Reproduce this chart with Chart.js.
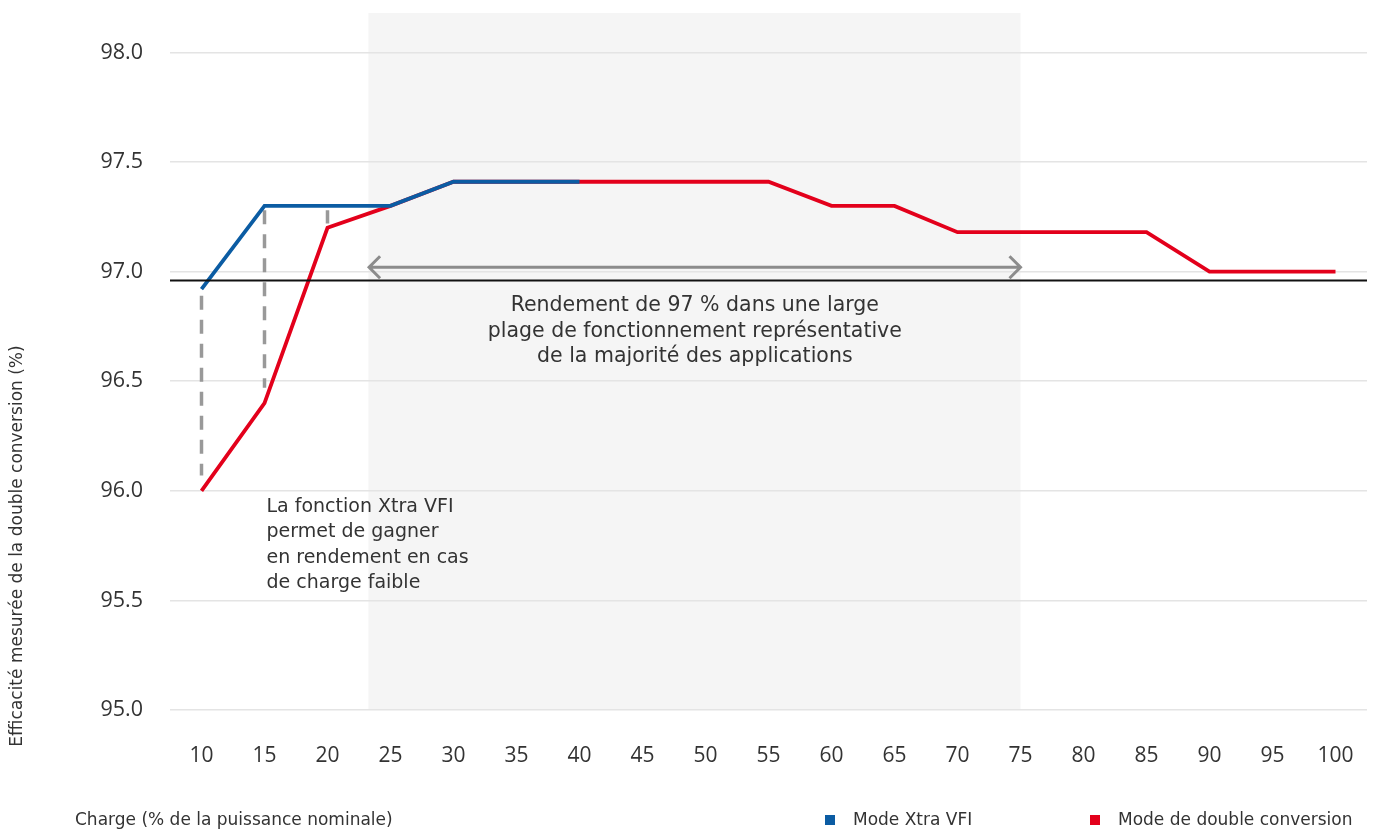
<!DOCTYPE html>
<html lang="fr">
<head>
<meta charset="utf-8">
<title>Efficacité Xtra VFI</title>
<script src="https://cdn.jsdelivr.net/npm/chart.js@4/dist/chart.umd.min.js"></script>
<style>
    html, body { margin: 0; padding: 0; background: #fff; }
    #wrap { width: 1377px; height: 831px; position: relative; }
</style>
</head>
<body>
<div id="wrap"><canvas id="chart"></canvas></div>
<script>
const loads = ['10', '15', '20', '25', '30', '35', '40', '45', '50', '55', '60', '65', '70', '75', '80', '85', '90', '95', '100'];
const xtraVfi = [96.92, 97.3, 97.3, 97.3, 97.41, 97.41, 97.41, null, null, null, null, null, null, null, null, null, null, null, null];
const doubleConversion = [96.0, 96.4, 97.2, 97.3, 97.41, 97.41, 97.41, 97.41, 97.41, 97.41, 97.3, 97.3, 97.18, 97.18, 97.18, 97.18, 97.0, 97.0, 97.0];
const gainLines = [
    [{x: '10', y: 96.89}, {x: '10', y: 96.07}],
    [{x: '15', y: 97.28}, {x: '15', y: 96.47}],
    [{x: '20', y: 97.28}, {x: '20', y: 97.22}],
];
const thresholdValue = 96.96;
const rangeArrow = {from: 23.3, to: 75, y: 97.02};
const rangeBand = {from: 23.25, to: 75};
const yTicks = [95.0, 95.5, 96.0, 96.5, 97.0, 97.5, 98.0];
const yMin = 95.0;
const yMax = 98.18;

const blue = '#0b5ca3';
const red = '#e3001b';
const grey = '#999999';
const textColor = '#333333';
const font = '"DejaVu Sans", sans-serif';
const tickFont = '"Open Sans", sans-serif';

// loads on the category axis as a fractional index
function loadIndex(v) {
    return (v - Number(loads[0])) / (Number(loads[1]) - Number(loads[0]));
}

const decorations = {
    id: 'decorations',
    beforeDraw(chart) {
        const {ctx, chartArea, scales} = chart;
        const x0 = scales.x.getPixelForValue(loadIndex(rangeBand.from));
        const x1 = scales.x.getPixelForValue(loadIndex(rangeBand.to));
        ctx.save();
        ctx.fillStyle = '#f5f5f5';
        ctx.fillRect(x0, chartArea.top, x1 - x0, chartArea.bottom - chartArea.top);
        ctx.restore();
    },
    afterDatasetsDraw(chart) {
        const {ctx, chartArea, scales} = chart;
        ctx.save();

        // 97 % reference line
        const yt = scales.y.getPixelForValue(thresholdValue);
        ctx.strokeStyle = '#111';
        ctx.lineWidth = 2;
        ctx.beginPath();
        ctx.moveTo(chartArea.left, yt);
        ctx.lineTo(chartArea.right, yt);
        ctx.stroke();

        // double arrow
        const ax0 = scales.x.getPixelForValue(loadIndex(rangeArrow.from));
        const ax1 = scales.x.getPixelForValue(loadIndex(rangeArrow.to));
        const ay = scales.y.getPixelForValue(rangeArrow.y);
        ctx.strokeStyle = '#8c8c8c';
        ctx.lineWidth = 3;
        ctx.beginPath();
        ctx.moveTo(ax0, ay);
        ctx.lineTo(ax1, ay);
        ctx.moveTo(ax0 + 11, ay - 11);
        ctx.lineTo(ax0, ay);
        ctx.lineTo(ax0 + 11, ay + 11);
        ctx.moveTo(ax1 - 11, ay - 11);
        ctx.lineTo(ax1, ay);
        ctx.lineTo(ax1 - 11, ay + 11);
        ctx.stroke();

        ctx.fillStyle = textColor;
        ctx.textBaseline = 'middle';

        ctx.font = '20.5px ' + font;
        ctx.textAlign = 'center';
        const cx = (ax0 + ax1) / 2;
        ['Rendement de 97 % dans une large',
         'plage de fonctionnement représentative',
         'de la majorité des applications'].forEach((t, i) => ctx.fillText(t, cx, 306 + i * 25.5));

        ctx.font = '19px ' + font;
        ctx.textAlign = 'left';
        const lx = scales.x.getPixelForValue(1);
        ['La fonction Xtra VFI',
         'permet de gagner',
         'en rendement en cas',
         'de charge faible'].forEach((t, i) => ctx.fillText(t, lx + 2, 507 + i * 25.3));
        ctx.restore();
    },
    afterDraw(chart) {
        const {ctx} = chart;
        ctx.save();
        ctx.fillStyle = textColor;
        ctx.font = '17px ' + font;
        ctx.textBaseline = 'middle';

        // axis titles
        ctx.textAlign = 'left';
        ctx.fillText('Charge (% de la puissance nominale)', 75, 821);
        ctx.save();
        ctx.translate(18, 546);
        ctx.rotate(-Math.PI / 2);
        ctx.textAlign = 'center';
        ctx.fillText('Efficacité mesurée de la double conversion (%)', 0, 0);
        ctx.restore();

        // legend
        const items = [
            {ds: chart.data.datasets[0], x: 825},
            {ds: chart.data.datasets[1], x: 1090},
        ];
        items.forEach(it => {
            ctx.fillStyle = it.ds.borderColor;
            ctx.fillRect(it.x, 815, 10, 10);
            ctx.fillStyle = textColor;
            ctx.fillText(it.ds.label, it.x + 28, 821);
        });
        ctx.restore();
    }
};

new Chart(document.getElementById('chart'), {
    type: 'line',
    data: {
        labels: loads,
        datasets: [
            {
                label: 'Mode Xtra VFI',
                data: xtraVfi,
                borderColor: blue,
                backgroundColor: blue,
                borderWidth: 3.8,
                pointRadius: 0,
                tension: 0,
                order: 0,
            },
            {
                label: 'Mode de double conversion',
                data: doubleConversion,
                borderColor: red,
                backgroundColor: red,
                borderWidth: 3.8,
                pointRadius: 0,
                tension: 0,
                order: 1,
            },
            ...gainLines.map(seg => ({
                label: 'gain',
                data: seg,
                borderColor: grey,
                borderWidth: 3.5,
                borderDash: [14, 10],
                borderCapStyle: 'butt',
                pointRadius: 0,
                order: 2,
            })),
        ]
    },
    options: {
        responsive: true,
        maintainAspectRatio: false,
        animation: false,
        layout: {padding: {top: 13, right: 10, left: 0, bottom: 0}},
        plugins: {
            legend: {display: false},
            tooltip: {enabled: false},
        },
        scales: {
            x: {
                type: 'category',
                offset: true,
                grid: {color: 'transparent', tickColor: 'transparent', drawTicks: true, tickLength: 33},
                border: {display: false},
                ticks: {
                    color: textColor,
                    font: {family: tickFont, size: 21},
                    padding: 0,
                    maxRotation: 0,
                    autoSkip: false,
                },
                afterFit: s => { s.height = 121; s.paddingLeft = 0; s.paddingRight = 0; },
            },
            y: {
                min: yMin,
                max: yMax,
                grid: {color: '#e4e4e4', lineWidth: 1.5, drawTicks: true, tickLength: 27, tickColor: 'transparent'},
                border: {display: false},
                afterBuildTicks: s => { s.ticks = yTicks.map(v => ({value: v})); },
                ticks: {
                    color: textColor,
                    font: {family: tickFont, size: 21.5},
                    padding: 0,
                    callback: v => v.toFixed(1),
                },
                afterFit: s => { s.width = 170; s.paddingTop = 0; s.paddingBottom = 0; },
            }
        }
    },
    plugins: [decorations]
});
</script>
</body>
</html>
